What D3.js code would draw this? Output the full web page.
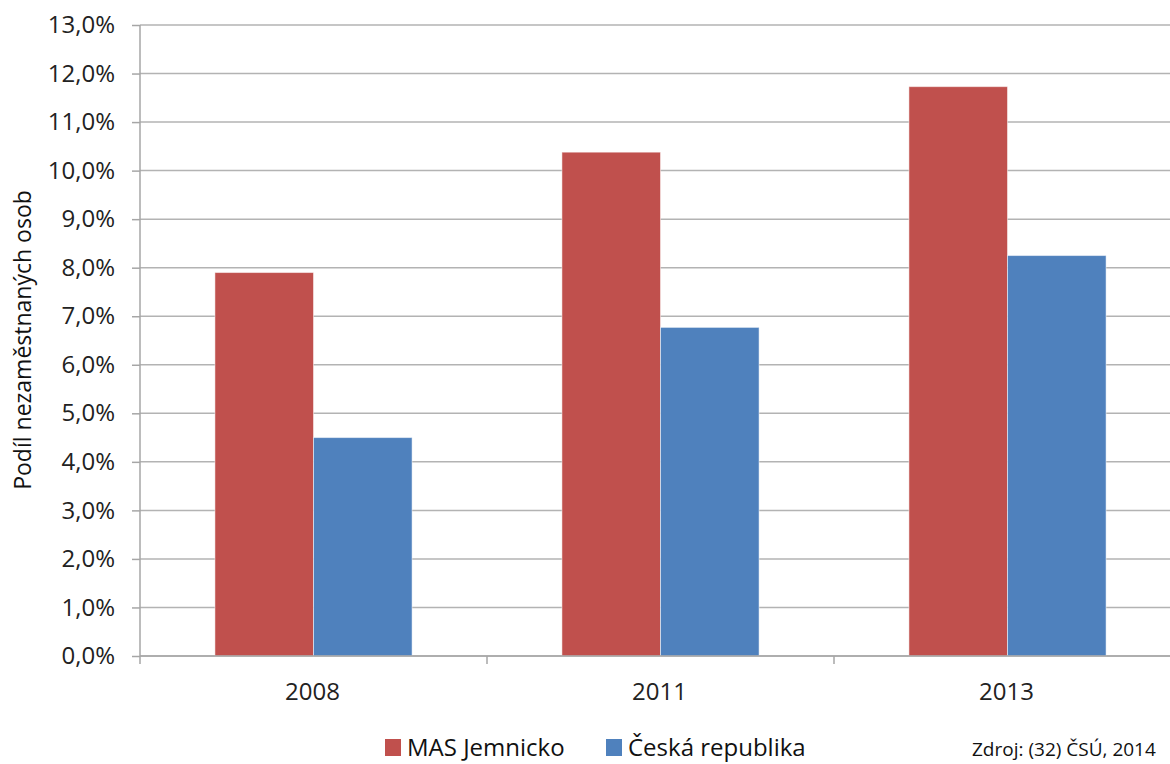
<!DOCTYPE html>
<html>
<head>
<meta charset="utf-8">
<script src="https://cdn.jsdelivr.net/npm/d3@7"></script>
<style>
  body { margin: 0; background: #fff; }
  svg { display: block; font-family: "Open Sans", sans-serif; }
</style>
</head>
<body>
<div class="chart"></div>
<script>
const years = ["2008", "2011", "2013"];
const seriesNames = ["MAS Jemnicko", "Česká republika"];
const masValues = [7.9, 10.38, 11.73];
const czValues = [4.5, 6.77, 8.25];
const yTicks = [0, 1, 2, 3, 4, 5, 6, 7, 8, 9, 10, 11, 12, 13];
const colors = ["#C0504D", "#4F81BD"];

const width = 1170;
const height = 764;
const plotLeft = 140;
const plotRight = 1181;
const plotTop = 25;
const plotBottom = 656;

const svg = d3.select(".chart")
  .append("svg")
  .attr("width", width)
  .attr("height", height);

const xScale = d3.scaleBand()
  .domain(years)
  .range([plotLeft, plotRight]);

const inner = d3.scaleBand()
  .domain(seriesNames)
  .range([0, xScale.bandwidth()])
  .paddingOuter(0.76)
  .paddingInner(0);

const yScale = d3.scaleLinear()
  .domain([0, 13])
  .range([plotBottom, plotTop]);

// gridlines
svg.append("g")
  .selectAll("line")
  .data(yTicks)
  .enter()
  .append("line")
  .attr("x1", plotLeft)
  .attr("x2", plotRight)
  .attr("y1", d => yScale(d))
  .attr("y2", d => yScale(d))
  .attr("stroke", "#b3b3b3")
  .attr("stroke-width", 1.5);

// y axis
const yAxis = d3.axisLeft(yScale)
  .tickValues(yTicks)
  .tickSize(8)
  .tickPadding(17)
  .tickFormat(d => d.toFixed(1).replace(".", ",") + "%");

svg.append("g")
  .attr("transform", "translate(" + plotLeft + ",0)")
  .call(yAxis)
  .attr("font-family", "Open Sans, sans-serif")
  .attr("font-size", 24)
  .call(g => g.selectAll("line, path").attr("stroke", "#a6a6a6").attr("stroke-width", 1.5))
  .call(g => g.select(".domain").attr("d", "M0," + plotTop + "V" + plotBottom))
  .call(g => g.selectAll("text").attr("fill", "#222"));

// bars
const rows = years.map((y, i) => ({ year: y, vals: [masValues[i], czValues[i]] }));

const groups = svg.append("g")
  .selectAll("g")
  .data(rows)
  .enter()
  .append("g")
  .attr("transform", d => "translate(" + xScale(d.year) + ",0)");

groups.selectAll("rect")
  .data(d => d.vals.map((v, j) => ({ name: seriesNames[j], value: v, idx: j })))
  .enter()
  .append("rect")
  .attr("x", d => inner(d.name))
  .attr("y", d => yScale(d.value))
  .attr("width", inner.bandwidth())
  .attr("height", d => plotBottom - yScale(d.value))
  .attr("fill", d => colors[d.idx])
  .attr("stroke", "rgba(255,255,255,0.5)")
  .attr("stroke-width", 1);

// x axis
const xTickPos = [plotLeft, plotLeft + xScale.bandwidth(), plotLeft + 2 * xScale.bandwidth()];
svg.append("g")
  .selectAll("line")
  .data(xTickPos)
  .enter()
  .append("line")
  .attr("x1", d => d)
  .attr("x2", d => d)
  .attr("y1", plotBottom)
  .attr("y2", plotBottom + 8)
  .attr("stroke", "#a6a6a6")
  .attr("stroke-width", 1.5);

svg.append("line")
  .attr("x1", plotLeft).attr("x2", plotRight)
  .attr("y1", plotBottom).attr("y2", plotBottom)
  .attr("stroke", "#a6a6a6").attr("stroke-width", 1.5);

svg.append("g")
  .selectAll("text")
  .data(years)
  .enter()
  .append("text")
  .attr("x", d => xScale(d) + xScale.bandwidth() / 2 - 1)
  .attr("y", 700)
  .attr("text-anchor", "middle")
  .style("font-size", "24px")
  .attr("fill", "#222")
  .text(d => d);

// y label
svg.append("text")
  .attr("transform", "translate(31,340) rotate(-90)")
  .attr("text-anchor", "middle")
  .style("font-size", "23px")
  .attr("fill", "#111")
  .text("Podíl nezaměstnaných osob");

// legend
const legendX = [385, 606];
const legend = svg.append("g")
  .selectAll("g")
  .data(seriesNames)
  .enter()
  .append("g")
  .attr("transform", (d, i) => "translate(" + legendX[i] + ",739)");

legend.append("rect")
  .attr("width", 16)
  .attr("height", 17)
  .attr("fill", (d, i) => colors[i]);

legend.append("text")
  .attr("x", 22)
  .attr("y", 17)
  .style("font-size", "24px")
  .attr("fill", "#111")
  .text(d => d);

svg.append("text")
  .attr("x", 972)
  .attr("y", 756)
  .style("font-size", "19px")
  .attr("fill", "#111")
  .text("Zdroj: (32) ČSÚ, 2014");
</script>
</body>
</html>
